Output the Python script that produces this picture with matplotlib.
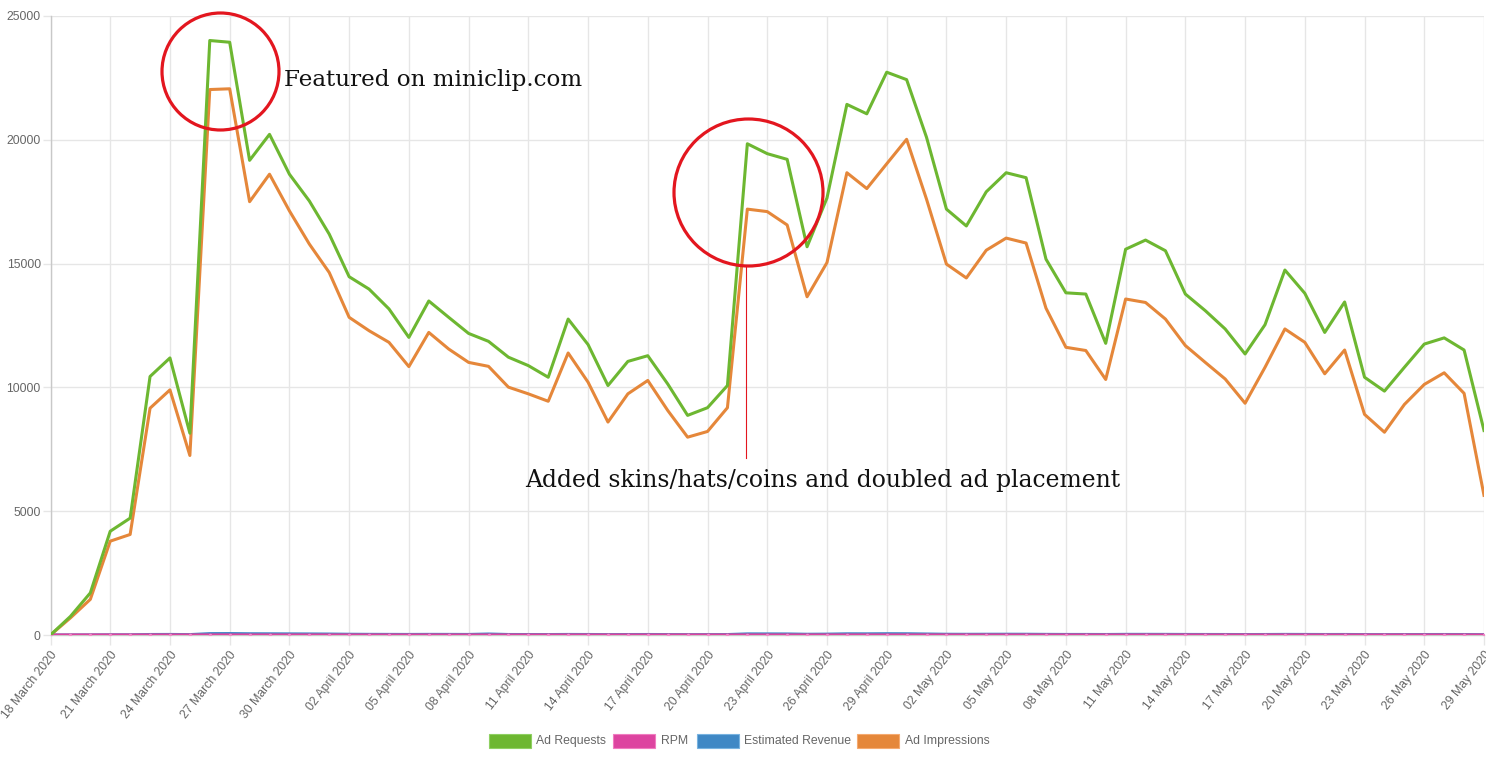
import matplotlib
matplotlib.use("Agg")
import matplotlib.pyplot as plt
from matplotlib.patches import Ellipse, Rectangle
import numpy as np
import pandas as pd

dates = pd.date_range("2020-03-18", "2020-05-29", freq="D")
date_labels = [d.strftime("%d %B %Y") for d in dates]

ad_requests = [0, 750, 1700, 4190, 4720, 10440, 11190, 8150, 24010, 23940,
               19170, 20220, 18610, 17530, 16190, 14470, 13970, 13170, 12020, 13490,
               12830, 12180, 11860, 11220, 10880, 10410, 12760, 11730, 10075, 11050,
               11280, 10140, 8870, 9180, 10075, 19840, 19440, 19210, 15680, 17650,
               21430, 21050, 22730, 22430, 20100, 17200, 16520, 17900, 18670, 18470,
               15180, 13820, 13770, 11780, 15580, 15950, 15520, 13770, 13100, 12360,
               11350, 12530, 14740, 13800, 12220, 13450, 10410, 9850, 10810, 11750,
               12000, 11510, 8260]

ad_impressions = [0, 690, 1440, 3790, 4060, 9160, 9900, 7250, 22030, 22060,
                  17500, 18610, 17130, 15790, 14640, 12830, 12290, 11820, 10840, 12220,
                  11550, 11010, 10850, 10010, 9740, 9440, 11390, 10210, 8600, 9740,
                  10280, 9070, 7990, 8220, 9180, 17200, 17100, 16560, 13660, 15040,
                  18670, 18030, 19030, 20020, 17600, 14980, 14420, 15540, 16030, 15830,
                  13200, 11620, 11490, 10320, 13570, 13430, 12760, 11690, 11010, 10340,
                  9360, 10810, 12360, 11820, 10550, 11510, 8910, 8190, 9310, 10120,
                  10590, 9760, 5640]

estimated_revenue = [0, 2, 4, 8, 9, 20, 22, 16, 55, 58,
                     50, 48, 45, 42, 38, 30, 26, 24, 22, 25,
                     24, 22, 40, 20, 19, 18, 22, 20, 17, 19,
                     20, 18, 15, 16, 18, 45, 44, 42, 30, 35,
                     48, 47, 52, 50, 40, 30, 28, 30, 31, 30,
                     25, 22, 22, 20, 26, 26, 25, 22, 21, 20,
                     18, 20, 24, 22, 20, 21, 17, 16, 18, 19,
                     20, 19, 14]

rpm = [0, 1.2, 1.5, 1.8, 1.9, 2.0, 2.1, 2.0, 2.4, 2.5,
       2.4, 2.3, 2.3, 2.2, 2.2, 2.1, 2.0, 2.0, 2.0, 2.1,
       2.0, 2.0, 2.1, 1.9, 1.9, 1.9, 2.0, 1.9, 1.8, 1.9,
       1.9, 1.8, 1.8, 1.8, 1.9, 2.2, 2.2, 2.1, 2.0, 2.1,
       2.2, 2.2, 2.3, 2.3, 2.1, 2.0, 1.9, 1.9, 1.9, 1.9,
       1.8, 1.8, 1.8, 1.7, 1.8, 1.8, 1.8, 1.7, 1.7, 1.7,
       1.7, 1.7, 1.8, 1.7, 1.7, 1.7, 1.6, 1.6, 1.6, 1.7,
       1.7, 1.7, 1.6]

series_names = ["Ad Requests", "RPM", "Estimated Revenue", "Ad Impressions"]
series_colors = ["#6db731", "#dd44a0", "#3f88c5", "#e5873a"]
border_colors = ["#8fd062", "#f07cc0", "#78b3e0", "#f5aa70"]

y_ticks = [0, 5000, 10000, 15000, 20000, 25000]

W, H, DPI = 1486, 763, 100
fig = plt.figure(figsize=(W / DPI, H / DPI), dpi=DPI)
ax_left, ax_right, ax_top, ax_bottom = 50.5, 1484, 16, 635
ax = fig.add_axes([ax_left / W, 1 - ax_bottom / H, (ax_right - ax_left) / W, (ax_bottom - ax_top) / H])

x = np.arange(len(dates))
lw = 2.2
ax.plot(x, ad_impressions, color=series_colors[3], lw=lw, zorder=3)
ax.plot(x, estimated_revenue, color=series_colors[2], lw=lw, zorder=4)
ax.plot(x, rpm, color=series_colors[1], lw=lw, zorder=5, marker="o", markersize=2.5,
        markerfacecolor="#f08ac8", markeredgewidth=0)
ax.plot(x, ad_requests, color=series_colors[0], lw=lw, zorder=6)

ax.set_xlim(0, len(dates) - 1)
ax.set_ylim(0, 25000)
ax.set_yticks(y_ticks)
ax.set_yticklabels([str(v) for v in y_ticks])
tick_idx = list(range(0, len(dates), 3))
ax.set_xticks(tick_idx)
ax.set_xticklabels([date_labels[i] for i in tick_idx], rotation=52, ha="right", va="top",
                   rotation_mode="anchor")

ax.grid(True, color="#e6e6e6", lw=1)
ax.set_axisbelow(True)
for s in ["top", "right"]:
    ax.spines[s].set_visible(False)
for s in ["left", "bottom"]:
    ax.spines[s].set_color("#c8c8c8")
    ax.spines[s].set_linewidth(1)
ax.tick_params(axis="both", colors="#666666", labelsize=8.8, width=1)
ax.tick_params(axis="x", color="#e6e6e6", length=7, pad=3)
ax.tick_params(axis="y", color="#e6e6e6", length=5.8, pad=1.2)
for lab in ax.get_xticklabels() + ax.get_yticklabels():
    lab.set_fontfamily("Liberation Sans")

# annotations in pixel coordinates
def px(xp, yp):
    return xp / DPI, (H - yp) / DPI

red = "#e3161f"
c1 = Ellipse(px(220.5, 71.5), 117 / DPI, 117 / DPI, fill=False, edgecolor=red, lw=2.3,
             transform=fig.dpi_scale_trans, zorder=10)
c2 = Ellipse(px(748.5, 192.5), 149 / DPI, 147 / DPI, fill=False, edgecolor=red, lw=2.3,
             transform=fig.dpi_scale_trans, zorder=10)
fig.add_artist(c1)
fig.add_artist(c2)
x0, y0 = px(746, 266)
x1, y1 = px(746, 458)
fig.add_artist(plt.Line2D([x0, x1], [y0, y1], color=red, lw=0.8, transform=fig.dpi_scale_trans))

tx, ty = px(284, 86)
fig.text(tx / (W / DPI), ty / (H / DPI), "Featured on miniclip.com", family="DejaVu Serif",
         fontsize=16.6, color="#111111", va="baseline", ha="left")
tx, ty = px(525, 487)
fig.text(tx / (W / DPI), ty / (H / DPI), "Added skins/hats/coins and doubled ad placement",
         family="DejaVu Serif", fontsize=16.95, color="#111111", va="baseline", ha="left")

# legend
legend_items = [(489, 536), (613, 661), (696.5, 744), (857, 905)]
for (bx, tx), name, c, bc in zip(legend_items, series_names, series_colors, border_colors):
    rx, ry = px(bx, 748)
    fig.add_artist(Rectangle((rx, ry), 42 / DPI, 14 / DPI, facecolor=c, edgecolor=bc, lw=0.8,
                             transform=fig.dpi_scale_trans))
    lx, ly = px(tx, 741)
    fig.text(lx / (W / DPI), ly / (H / DPI), name, family="Liberation Sans", fontsize=8.8,
             color="#666666", va="center", ha="left")

fig.savefig("out.png", dpi=DPI)
